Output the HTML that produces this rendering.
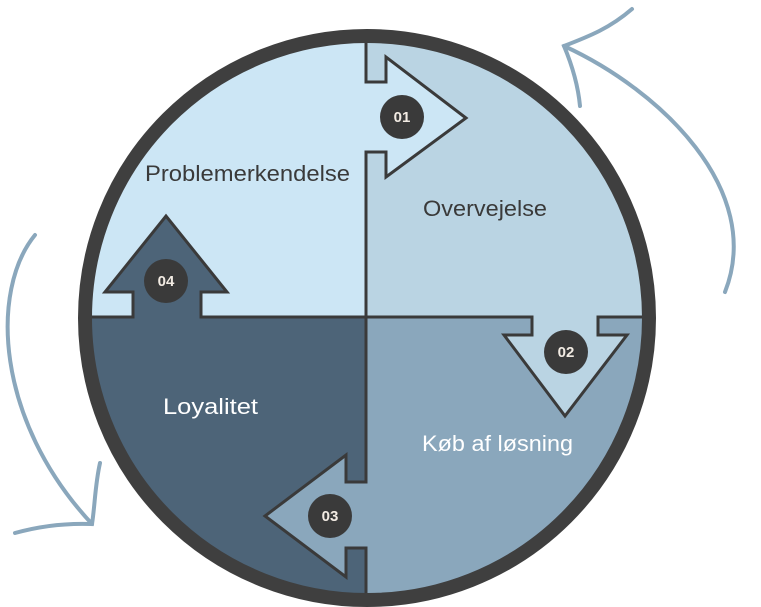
<!DOCTYPE html>
<html><head><meta charset="utf-8"><style>
html,body{margin:0;padding:0;background:#fff;}
svg{display:block;}
text{font-family:"Liberation Sans",sans-serif;}
</style></head><body>
<svg width="761" height="607" viewBox="0 0 761 607" xmlns="http://www.w3.org/2000/svg">
<defs><clipPath id="c"><circle cx="367" cy="318" r="283"/></clipPath></defs>
<g clip-path="url(#c)">
<rect x="0" y="0" width="367" height="318" fill="#cce6f5"/>
<rect x="367" y="0" width="400" height="318" fill="#bad4e3"/>
<rect x="367" y="318" width="400" height="300" fill="#8aa7bc"/>
<rect x="0" y="318" width="367" height="300" fill="#4d6478"/>
<g stroke="#3a3a3a" stroke-width="3" stroke-linejoin="miter">
<line x1="366" y1="0" x2="366" y2="610"/>
<line x1="0" y1="317" x2="760" y2="317"/>
<polygon points="363,83.5 386,83.5 386,57 466,118 386,177 386,150.5 363,150.5" fill="#cce6f5" stroke="none"/>
<polyline points="366,82 386,82 386,57 466,118 386,177 386,152 366,152" fill="none"/>
<polygon points="533.5,314 596.5,314 596.5,335 627,335 565,416 504,335 533.5,335" fill="#bad4e3" stroke="none"/>
<polyline points="598,317 598,335 627,335 565,416 504,335 532,335 532,317" fill="none"/>
<polygon points="369,483.5 346,483.5 346,455 265,516 346,577 346,546.5 369,546.5" fill="#8aa7bc" stroke="none"/>
<polyline points="366,482 346,482 346,455 265,516 346,577 346,548 366,548" fill="none"/>
<polygon points="134.5,320 199.5,320 199.5,292 227,292 166,216 105,292 134.5,292" fill="#4d6478" stroke="none"/>
<polyline points="201,317 201,292 227,292 166,216 105,292 133,292 133,317" fill="none"/>
</g>
</g>
<circle cx="367" cy="318" r="282" fill="none" stroke="#3f3f3f" stroke-width="14"/>
<g fill="#3a3a3a">
<circle cx="402" cy="117" r="22"/><circle cx="566" cy="352" r="22"/>
<circle cx="330" cy="516" r="22"/><circle cx="166" cy="281" r="22"/>
</g>
<g fill="#f2ebe3" font-size="15" font-weight="bold" text-anchor="middle">
<text x="402" y="122">01</text><text x="566" y="357">02</text>
<text x="330" y="521">03</text><text x="166" y="286">04</text>
</g>
<g font-size="22">
<text x="145" y="181" fill="#3a3a3a" textLength="205" lengthAdjust="spacingAndGlyphs">Problemerkendelse</text>
<text x="423" y="216" fill="#3a3a3a" textLength="124" lengthAdjust="spacingAndGlyphs">Overvejelse</text>
<text x="422" y="451" fill="#ffffff" textLength="151" lengthAdjust="spacingAndGlyphs">Køb af løsning</text>
<text x="163" y="414" fill="#ffffff" textLength="95" lengthAdjust="spacingAndGlyphs">Loyalitet</text>
</g>
<g fill="none" stroke="#8aa7bc" stroke-width="4" stroke-linecap="round">
<path d="M564,46 C660,90 765,190 725,292"/>
<path d="M632,9 C610,28 590,36 564,46 C572,65 578,85 580,106"/>
<path d="M35,235 C-10,290 -5,420 92,524"/>
<path d="M100,463 C95,485 95,505 92,524 C65,523 40,526 15,533"/>
</g>
</svg>
</body></html>
